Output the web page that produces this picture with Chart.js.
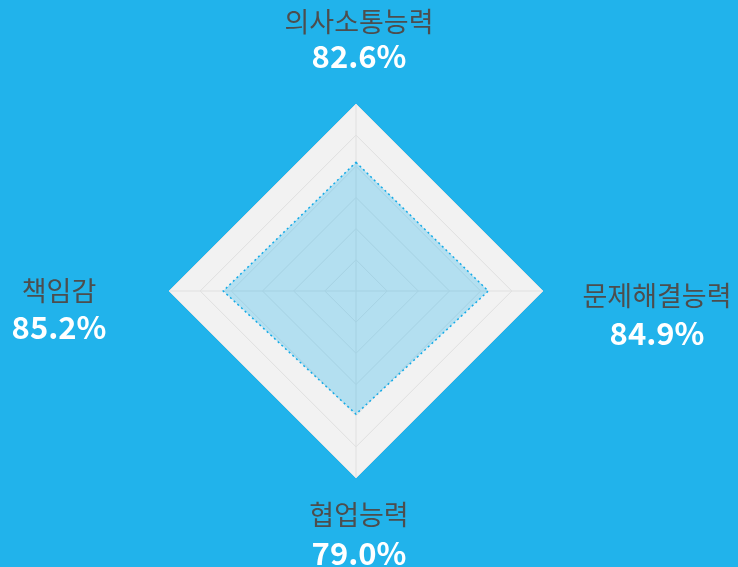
<!DOCTYPE html>
<html>
<head>
<meta charset="utf-8">
<script src="https://cdn.jsdelivr.net/npm/chart.js@4/dist/chart.umd.min.js"></script>
<style>
    html, body { margin: 0; padding: 0; background: #21b3eb; }
    #wrap { width: 738px; height: 567px; position: relative; }
</style>
</head>
<body>
<div id="wrap"><canvas id="chartSkill"></canvas></div>
<script>
    // data
    let labels = ['의사소통능력', '문제해결능력', '협업능력', '책임감'];
    let scores = [82.6, 84.9, 79.0, 85.2];
    let scaleMax = 120;
    let scaleStep = 20;

    // where each label block sits relative to its axis end (top, right, bottom, left)
    let labelDx = [3, 114, 3, -110];
    let nameDy = [-82, 5, 37, 0];
    let valueDy = [-48, 42, 75, 36];

    let skillLabels = {
        id: 'skillLabels',
        afterDraw: function (chart) {
            let ctx = chart.ctx;
            let scale = chart.scales.r;
            ctx.save();
            ctx.textAlign = 'center';
            ctx.textBaseline = 'middle';
            for (let i = 0; i < labels.length; i++) {
                let p = scale.getPointPosition(i, scale.drawingArea);
                ctx.fillStyle = '#4d4d4d';
                ctx.font = '27px "Noto Sans CJK KR", "Noto Sans", sans-serif';
                ctx.fillText(labels[i], p.x + labelDx[i], p.y + nameDy[i]);
                ctx.fillStyle = '#ffffff';
                ctx.font = 'bold 31px "Noto Sans CJK KR", "Noto Sans", sans-serif';
                ctx.fillText(scores[i].toFixed(1) + '%', p.x + labelDx[i], p.y + valueDy[i]);
            }
            ctx.restore();
        }
    };

    new Chart(document.getElementById('chartSkill'), {
        type: 'radar',
        data: {
            labels: labels,
            datasets: [
                {
                    label: '역량',
                    data: scores,
                    backgroundColor: 'rgba(33, 179, 235, 0.3)',
                    borderColor: 'rgba(20, 170, 230, 1)',
                    borderWidth: 1.5,
                    borderDash: [2, 3],
                    pointRadius: 0,
                    pointHoverRadius: 0
                }
            ]
        },
        options: {
            responsive: true,
            maintainAspectRatio: false,
            animation: false,
            layout: {
                padding: { top: 104, bottom: 89, left: 169, right: 195 }
            },
            plugins: {
                legend: { display: false },
                tooltip: { enabled: false }
            },
            scales: {
                r: {
                    min: 0,
                    max: scaleMax,
                    backgroundColor: '#f2f2f2',
                    ticks: { display: false, stepSize: scaleStep },
                    grid: { color: '#e0e0e0', lineWidth: 1 },
                    angleLines: { color: '#e0e0e0', lineWidth: 1 },
                    pointLabels: { display: false }
                }
            }
        },
        plugins: [skillLabels]
    });
</script>
</body>
</html>
